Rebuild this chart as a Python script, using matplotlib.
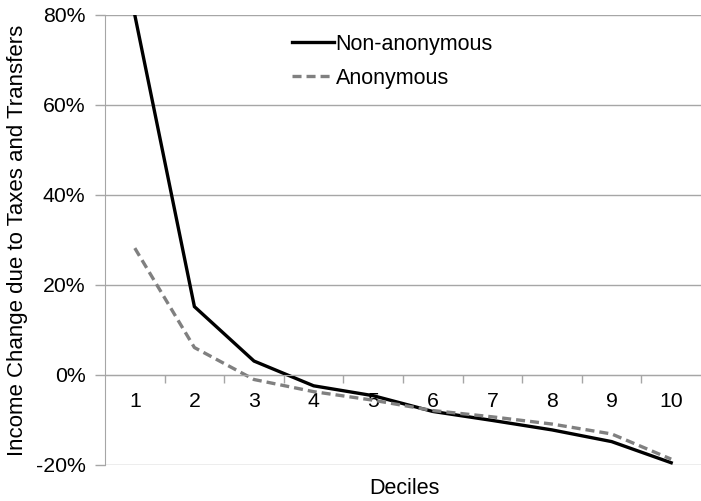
import matplotlib
matplotlib.use("Agg")
import matplotlib.pyplot as plt
from matplotlib.ticker import FuncFormatter, FixedLocator

plt.rcParams['font.family'] = ['Liberation Sans', 'DejaVu Sans']
plt.rcParams['lines.scale_dashes'] = False

deciles = [1, 2, 3, 4, 5, 6, 7, 8, 9, 10]
decile_labels = ['1', '2', '3', '4', '5', '6', '7', '8', '9', '10']
non_anonymous = [80.0, 15.2, 3.1, -2.4, -4.6, -8.1, -10.1, -12.2, -14.8, -19.5]
anonymous = [28.2, 6.1, -1.0, -3.7, -5.6, -7.9, -9.3, -10.9, -13.1, -18.7]
y_ticks = [-20, 0, 20, 40, 60, 80]

W, H = 701, 501
fig = plt.figure(figsize=(W / 100, H / 100), dpi=100)
ax = fig.add_axes([105 / W, 36 / H, 596 / W, 450 / H])

grid_c = '#a6a6a6'
ax.plot(deciles, non_anonymous, color='black', lw=2.4, label='Non-anonymous',
        solid_joinstyle='miter')
ax.plot(deciles, anonymous, color='#808080', lw=2.4, dashes=(6.5, 3.6),
        label='Anonymous')

ax.set_xlim(0.5, 10.5)
ax.set_ylim(-20, 80)

ax.set_yticks(y_ticks)
ax.yaxis.set_major_formatter(FuncFormatter(lambda v, p: f'{v:.0f}%'))
ax.yaxis.grid(True, color=grid_c, lw=1.0)
ax.set_axisbelow(True)
ax.tick_params(axis='y', length=7, width=1, color=grid_c, labelsize=15.3, pad=7)

for s in ['top', 'right']:
    ax.spines[s].set_visible(False)
ax.spines['left'].set_color(grid_c)
ax.spines['bottom'].set_color(grid_c)
ax.spines['bottom'].set_position(('data', 0))

ax.xaxis.set_major_locator(FixedLocator([1.5, 2.5, 3.5, 4.5, 5.5, 6.5, 7.5, 8.5, 9.5]))
ax.xaxis.set_minor_locator(FixedLocator(deciles))
ax.xaxis.set_major_formatter(FuncFormatter(lambda v, p: ''))
ax.set_xticklabels(decile_labels, minor=True)
ax.tick_params(axis='x', which='major', length=6, width=1, color=grid_c, direction='out')
ax.tick_params(axis='x', which='minor', length=0, labelsize=15.3, pad=12)

fig.text(18 / W, 1 - 240 / H, 'Income Change due to Taxes and Transfers',
         fontsize=16, rotation=90, ha='center', va='center')
fig.text(404 / W, 1 - 489 / H, 'Deciles', fontsize=15.5, ha='center', va='center')

leg = ax.legend(loc='upper left', bbox_to_anchor=(283 / W, 1 - 25 / H),
                bbox_transform=fig.transFigure, frameon=False, fontsize=15.5,
                handlelength=1.95, handletextpad=0.1, labelspacing=0.62,
                borderaxespad=0)

fig.savefig('out.png', dpi=100)
